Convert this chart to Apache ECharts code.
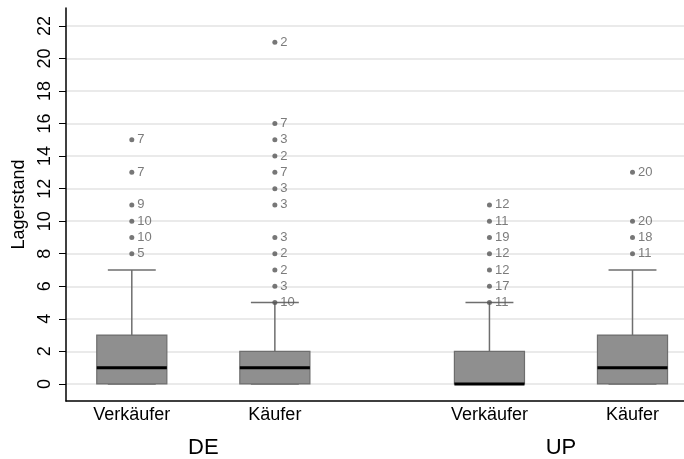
<!DOCTYPE html>
<html>
<head>
<meta charset="utf-8">
<script src="https://cdn.jsdelivr.net/npm/echarts@6/dist/echarts.min.js"></script>
<style>html,body{margin:0;padding:0;background:#fff}#c{width:684px;height:459px}</style>
</head>
<body>
<div id="c"></div>
<script>
// ---- data ----
const categories = ['Verkäufer', 'Käufer', 'Verkäufer', 'Käufer'];
const positions = [1, 2, 3.5, 4.5];
const groups = ['DE', 'UP'];
const groupPositions = [1.5, 4];
const whiskerLow = [0, 0, 0, 0];
const q1 = [0, 0, 0, 0];
const median = [1, 1, 0, 1];
const q3 = [3, 2, 2, 3];
const whiskerHigh = [7, 5, 5, 7];
const outlierValues = [
  [8, 9, 10, 11, 13, 15],
  [5, 6, 7, 8, 9, 11, 12, 13, 14, 15, 16, 21],
  [5, 6, 7, 8, 9, 10, 11],
  [8, 9, 10, 13]
];
const outlierLabels = [
  ['5', '10', '10', '9', '7', '7'],
  ['10', '3', '2', '2', '3', '3', '3', '7', '2', '3', '7', '2'],
  ['11', '17', '12', '12', '19', '11', '12'],
  ['11', '18', '20', '20']
];
const yTicks = [0, 2, 4, 6, 8, 10, 12, 14, 16, 18, 20, 22];

// ---- build ----
const boxData = positions.map((p, i) => [p, whiskerLow[i], q1[i], median[i], q3[i], whiskerHigh[i]]);
const outData = [];
outlierValues.forEach((vals, i) => vals.forEach((v, j) => outData.push([positions[i], v, outlierLabels[i][j]])));

const BOX_W = 0.49, CAP_W = 0.335;
const chart = echarts.init(document.getElementById('c'), null, {renderer: 'canvas'});
const font = 'Liberation Sans, Arial, sans-serif';

chart.setOption({
  animation: false,
  grid: {left: 66, right: 0, top: 8, bottom: 58},
  xAxis: [{
    type: 'value', min: 0.54, max: 4.86,
    axisLine: {show: true, onZero: false, lineStyle: {color: '#000', width: 1.5}},
    axisTick: {show: false},
    splitLine: {show: false},
    axisLabel: {
      customValues: positions, margin: 5,
      color: '#000', fontSize: 18, fontFamily: font,
      formatter: v => categories[positions.indexOf(v)]
    }
  }, {
    type: 'value', min: 0.54, max: 4.86, position: 'bottom', offset: 36,
    axisLine: {show: false, onZero: false}, axisTick: {show: false}, splitLine: {show: false},
    axisLabel: {
      customValues: groupPositions, margin: 0,
      color: '#000', fontSize: 22, fontFamily: font,
      formatter: v => groups[groupPositions.indexOf(v)]
    }
  }],
  yAxis: {
    type: 'value', min: -1.05, max: 23.1,
    name: 'Lagerstand', nameLocation: 'middle', nameGap: 38,
    nameTextStyle: {color: '#000', fontSize: 18, fontFamily: font},
    axisLine: {show: true, onZero: false, lineStyle: {color: '#000', width: 1.5}},
    axisTick: {show: true, customValues: yTicks, length: 7, lineStyle: {color: '#000', width: 1}},
    splitLine: {show: false},
    axisLabel: {customValues: yTicks, rotate: 90, margin: 12, color: '#000', fontSize: 18, fontFamily: font}
  },
  series: [{
    type: 'line', data: [], silent: true, z: 0,
    markLine: {
      silent: true, symbol: 'none', label: {show: false}, z: 0,
      lineStyle: {color: '#e3e3e3', width: 1.5, type: 'solid'},
      data: yTicks.map(t => ({yAxis: t}))
    }
  }, {
    type: 'custom', data: boxData, silent: true,
    encode: {x: 0, y: [1, 2, 3, 4, 5]},
    renderItem: function (params, api) {
      const x = api.value(0);
      const w = api.size([BOX_W, 0])[0];
      const cw = api.size([CAP_W, 0])[0];
      const pLow = api.coord([x, api.value(1)]);
      const pQ1 = api.coord([x, api.value(2)]);
      const pMed = api.coord([x, api.value(3)]);
      const pQ3 = api.coord([x, api.value(4)]);
      const pHigh = api.coord([x, api.value(5)]);
      const cx = pQ1[0];
      const ws = {stroke: '#6e6e6e', lineWidth: 1.5};
      return {type: 'group', children: [
        {type: 'line', shape: {x1: cx, y1: pQ3[1], x2: cx, y2: pHigh[1]}, style: ws},
        {type: 'line', shape: {x1: cx - cw / 2, y1: pHigh[1], x2: cx + cw / 2, y2: pHigh[1]}, style: ws},
        {type: 'line', shape: {x1: cx, y1: pQ1[1], x2: cx, y2: pLow[1]}, style: ws},
        {type: 'line', shape: {x1: cx - cw / 2, y1: pLow[1], x2: cx + cw / 2, y2: pLow[1]}, style: ws},
        {type: 'rect', shape: {x: cx - w / 2, y: pQ3[1], width: w, height: pQ1[1] - pQ3[1]},
          style: {fill: '#8f8f8f', stroke: '#6e6e6e', lineWidth: 1.2}},
        {type: 'line', shape: {x1: cx - w / 2, y1: pMed[1], x2: cx + w / 2, y2: pMed[1]},
          style: {stroke: '#000', lineWidth: 3}}
      ]};
    },
    z: 3
  }, {
    type: 'scatter', data: outData, silent: true,
    symbol: 'circle', symbolSize: 5,
    itemStyle: {color: '#555'},
    label: {
      show: true, position: 'right', distance: 3,
      formatter: p => p.data[2],
      color: '#5a5a5a', fontSize: 13, fontFamily: font
    },
    z: 4
  }]
});
</script>
</body>
</html>
